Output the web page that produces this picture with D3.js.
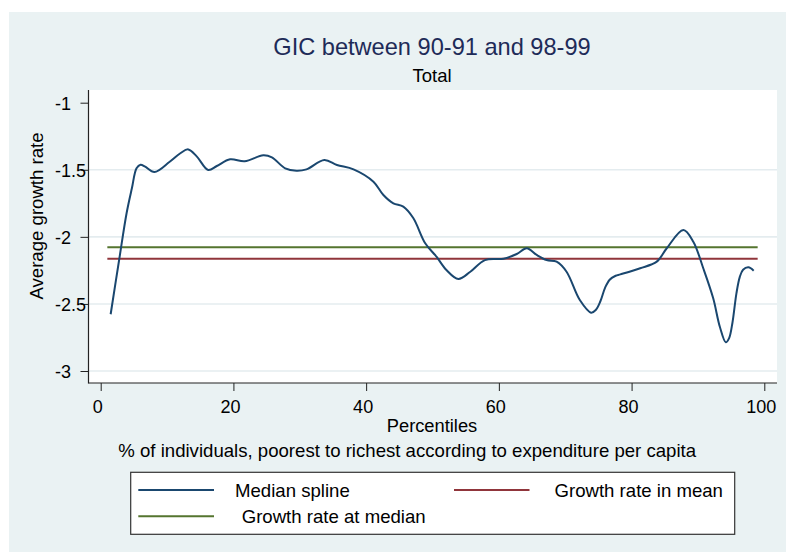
<!DOCTYPE html>
<html>
<head>
<meta charset="utf-8">
<script src="https://cdn.jsdelivr.net/npm/d3@7"></script>
<style>
  html, body { margin: 0; padding: 0; background: #ffffff; }
  svg { display: block; font-family: "Liberation Sans", Arial, Helvetica, sans-serif; }
</style>
</head>
<body>
<svg id="chart" width="786" height="552"></svg>
<script>
// Growth incidence curve: percentile vs. average growth rate (median spline)
const percentiles = [1.5, 2.8, 3.9, 4.7, 5.4, 6.0, 6.7, 8.1, 10.4, 12.0, 13.2, 14.5, 16.2, 17.5, 19.5,
  21.7, 24.5, 25.8, 27.8, 29.5, 31.0, 33.7, 35.6, 38.1, 41.1, 42.6, 44.1, 45.6, 47.1, 48.9,
  50.6, 52.1, 53.9, 55.7, 57.9, 60.7, 62.7, 64.2, 65.7, 67.2, 68.7, 70.2, 72.2, 73.9, 74.6,
  75.3, 76.0, 76.7, 77.6, 78.3, 81.3, 83.8, 85.3, 87.8, 89.3, 90.8, 92.3, 93.3, 94.2, 94.7,
  95.2, 95.8, 96.3, 96.8, 97.6, 98.4];
const medianSpline = [-2.577, -2.165, -1.824, -1.638, -1.489, -1.462, -1.477, -1.517, -1.440, -1.377, -1.348, -1.402, -1.502, -1.472, -1.422,
  -1.437, -1.392, -1.407, -1.489, -1.507, -1.497, -1.427, -1.464, -1.497, -1.589, -1.688, -1.750, -1.775, -1.860, -2.048,
  -2.148, -2.247, -2.314, -2.260, -2.173, -2.163, -2.128, -2.085, -2.135, -2.173, -2.185, -2.260, -2.471, -2.565, -2.545,
  -2.480, -2.380, -2.320, -2.290, -2.280, -2.234, -2.185, -2.085, -1.949, -2.036, -2.234, -2.458, -2.670, -2.786, -2.755,
  -2.640, -2.421, -2.300, -2.245, -2.227, -2.252];

// Reference lines, drawn across percentiles 1..99
const refRange = [1, 99];
const growthInMean = -2.163;
const growthAtMedian = -2.078;

const xTicks = [0, 20, 40, 60, 80, 100];
const yTicks = [-1, -1.5, -2, -2.5, -3];
const yGrid = [-1.5, -2, -2.5, -3];

const colors = { spline: "#1a476f", mean: "#90353b", median: "#55752f" };

const svg = d3.select("#chart");

// Graph region background
svg.append("rect").attr("x", 9).attr("y", 12).attr("width", 777).attr("height", 540).attr("fill", "#eaf2f3");

// Plot region
const plot = { left: 88.5, right: 777, top: 90, bottom: 383 };
svg.append("rect")
  .attr("x", plot.left).attr("y", plot.top)
  .attr("width", plot.right - plot.left).attr("height", plot.bottom - plot.top)
  .attr("fill", "#ffffff");

const x = d3.scaleLinear().domain([0, 100]).range([100.7, 764.3]);
const y = d3.scaleLinear().domain([-3, -1]).range([371, 102.7]);

// Gridlines
svg.append("g").selectAll("line").data(yGrid).join("line")
  .attr("x1", plot.left).attr("x2", plot.right)
  .attr("y1", d => y(d)).attr("y2", d => y(d))
  .attr("stroke", "#e4ecef").attr("stroke-width", 1.6);

// Axes
const fmt = d => String(d);
const yAxis = svg.append("g").attr("transform", `translate(${plot.left},0)`)
  .call(d3.axisLeft(y).tickValues(yTicks).tickFormat(fmt).tickSize(8).tickPadding(0));
yAxis.select(".domain").remove();
yAxis.selectAll(".tick line").attr("stroke", "#222").attr("stroke-width", 1);
yAxis.selectAll(".tick text")
  .attr("x", 55 - plot.left).attr("text-anchor", "start").attr("dy", "0.36em")
  .attr("font-size", 18).attr("fill", "#000").attr("font-family", null);

const xAxis = svg.append("g").attr("transform", `translate(0,${plot.bottom})`)
  .call(d3.axisBottom(x).tickValues(xTicks).tickFormat(fmt).tickSize(8).tickPadding(0));
xAxis.select(".domain").remove();
xAxis.selectAll(".tick line").attr("stroke", "#222").attr("stroke-width", 1);
xAxis.selectAll(".tick text")
  .attr("x", -3.5).attr("y", 29.7).attr("dy", null)
  .attr("font-size", 18).attr("fill", "#000").attr("font-family", null);

svg.append("line").attr("x1", plot.left).attr("x2", plot.left)
  .attr("y1", plot.top).attr("y2", plot.bottom + 0.5).attr("stroke", "#222").attr("stroke-width", 1.2);
svg.append("line").attr("x1", plot.left).attr("x2", plot.right)
  .attr("y1", plot.bottom).attr("y2", plot.bottom).attr("stroke", "#222").attr("stroke-width", 1.2);

// Reference lines
svg.append("line")
  .attr("x1", x(refRange[0])).attr("x2", x(refRange[1]))
  .attr("y1", y(growthAtMedian)).attr("y2", y(growthAtMedian))
  .attr("stroke", colors.median).attr("stroke-width", 2);
svg.append("line")
  .attr("x1", x(refRange[0])).attr("x2", x(refRange[1]))
  .attr("y1", y(growthInMean)).attr("y2", y(growthInMean))
  .attr("stroke", colors.mean).attr("stroke-width", 2);

// Median spline
const pts = percentiles.map((p, i) => [p, medianSpline[i]]);
svg.append("path")
  .datum(pts)
  .attr("fill", "none")
  .attr("stroke", colors.spline)
  .attr("stroke-width", 2)
  .attr("d", d3.line().x(d => x(d[0])).y(d => y(d[1])).curve(d3.curveCatmullRom.alpha(0.5)));

// Titles
svg.append("text").attr("x", 432).attr("y", 55).attr("text-anchor", "middle")
  .attr("font-size", 23.6).attr("fill", "#1e2b58").text("GIC between 90-91 and 98-99");
svg.append("text").attr("x", 432).attr("y", 82).attr("text-anchor", "middle")
  .attr("font-size", 18.5).attr("fill", "#000").text("Total");
svg.append("text")
  .attr("transform", "translate(43.4,216) rotate(-90)")
  .attr("text-anchor", "middle").attr("font-size", 18.6).attr("fill", "#000")
  .text("Average growth rate");
svg.append("text").attr("x", 432).attr("y", 432).attr("text-anchor", "middle")
  .attr("font-size", 18.3).attr("fill", "#000").text("Percentiles");
svg.append("text").attr("x", 118.3).attr("y", 456.5).attr("text-anchor", "start")
  .attr("font-size", 18.6).attr("fill", "#000")
  .text("% of individuals, poorest to richest according to expenditure per capita");

// Legend
const legend = svg.append("g");
legend.append("rect").attr("x", 130.7).attr("y", 472.3).attr("width", 604).attr("height", 62)
  .attr("fill", "#ffffff").attr("stroke", "#333").attr("stroke-width", 1.2);
const legendItems = [
  { label: "Median spline", color: colors.spline, x1: 138.3, x2: 214, ly: 490, tx: 235, ty: 496.7 },
  { label: "Growth rate in mean", color: colors.mean, x1: 454, x2: 529.5, ly: 490, tx: 554.5, ty: 496.7 },
  { label: "Growth rate at median", color: colors.median, x1: 138.3, x2: 214, ly: 516.3, tx: 241.7, ty: 523.2 }
];
legendItems.forEach(it => {
  legend.append("line").attr("x1", it.x1).attr("x2", it.x2).attr("y1", it.ly).attr("y2", it.ly)
    .attr("stroke", it.color).attr("stroke-width", 2);
  legend.append("text").attr("x", it.tx).attr("y", it.ty).attr("font-size", 18.6).attr("fill", "#000")
    .text(it.label);
});
</script>
</body>
</html>
